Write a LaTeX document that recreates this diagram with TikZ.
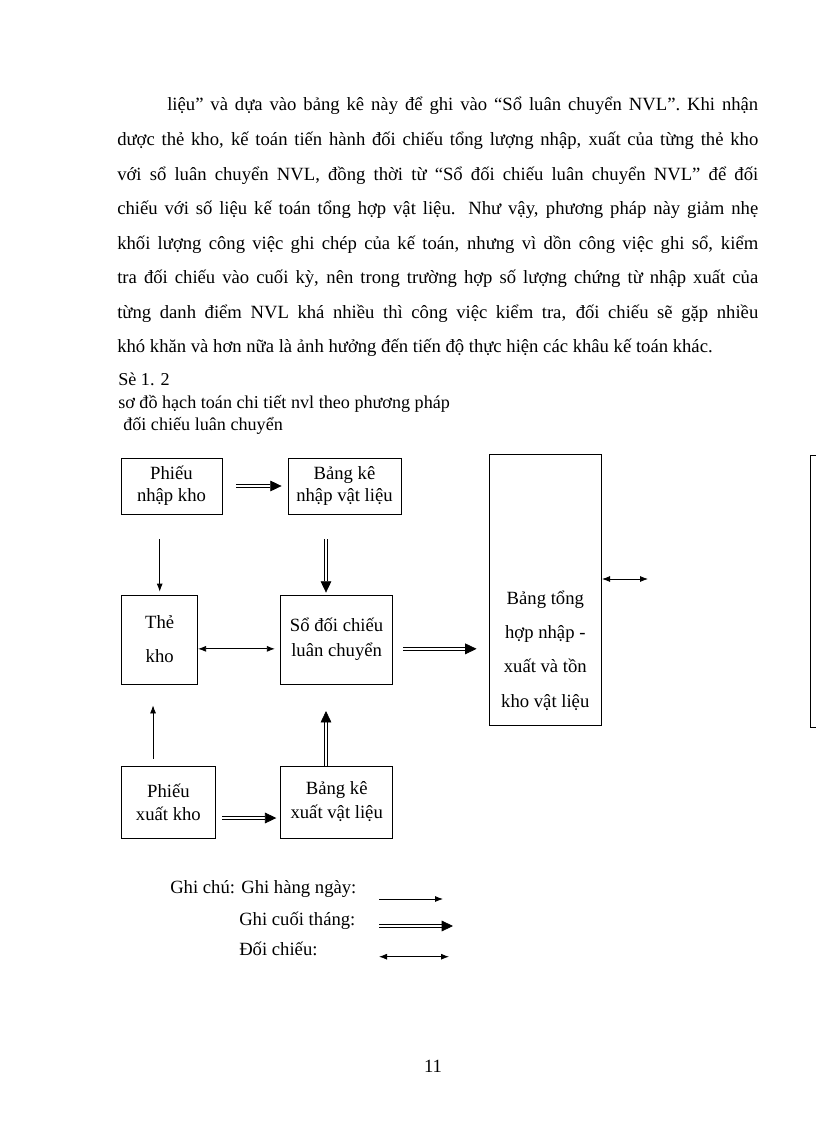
\documentclass[tikz,border=0pt]{standalone}
\usepackage{fontspec}
\setmainfont{Liberation Serif}
\usetikzlibrary{arrows.meta}
\newcommand{\cochu}[2]{\fontsize{#1}{#2}\selectfont}

\begin{document}
\begin{tikzpicture}[x=.75pt,y=-.75pt,
	hop/.style={draw,line width=.6pt,inner sep=0pt,align=center,font=\cochu{14}{16.5}},
	ngay/.style={line width=.6pt,-{Latex[length=6pt,width=4.5pt]}},
	thang/.style={double,double distance=1.6pt,line width=.55pt,-{Triangle[length=8.5pt,width=8pt]}},
	doichieu/.style={line width=.6pt,{Latex[length=6pt,width=4.5pt]}-{Latex[length=6pt,width=4.5pt]}}]
	\useasboundingbox (0,0) rectangle (816,1123);
	% doan van
	\node[anchor=base west,inner sep=0pt,text width=480.75pt,align=justify,font=\cochu{14}{25.9}] (vanban) at (117,111)
	{\hspace*{37.5pt}liệu” và dựa vào bảng kê này để ghi vào “Sổ luân chuyển NVL”. Khi nhận\linebreak
	dược thẻ kho, kế toán tiến hành đối chiếu tổng lượng nhập, xuất của từng thẻ kho\linebreak
	với sổ luân chuyển NVL, đồng thời từ “Sổ đối chiếu luân chuyển NVL” để đối\linebreak
	chiếu với số liệu kế toán tổng hợp vật liệu. Như vậy, phương pháp này giảm nhẹ\linebreak
	khối lượng công việc ghi chép của kế toán, nhưng vì dồn công việc ghi sổ, kiểm\linebreak
	tra đối chiếu vào cuối kỳ, nên trong trường hợp số lượng chứng từ nhập xuất của\linebreak
	từng danh điểm NVL khá nhiều thì công việc kiểm tra, đối chiếu sẽ gặp nhiều\linebreak
	khó khăn và hơn nữa là ảnh hưởng đến tiến độ thực hiện các khâu kế toán khác.};
	% tieu de
	\node[anchor=base west,inner sep=0pt,font=\cochu{13.6}{15}] (so) at (118,385) {Sè 1. 2};
	\node[anchor=base west,inner sep=0pt,font=\cochu{13.6}{15}] (ten1) at (118,408) {sơ đồ hạch toán chi tiết nvl theo phương pháp};
	\node[anchor=base west,inner sep=0pt,font=\cochu{13.6}{15}] (ten2) at (123,430) {đối chiếu luân chuyển};
	% cac o
	\node[hop,minimum width=75.75pt,minimum height=42pt] (pnk) at (171.5,486) {Phiếu\\nhập kho};
	\node[hop,minimum width=84.75pt,minimum height=42pt] (bkn) at (344.5,486) {Bảng kê\\nhập vật liệu};
	\node[hop,minimum width=57pt,minimum height=66.75pt,font=\cochu{14}{25.5}] (tk) at (159.7,639.5) {Thẻ\\kho};
	\node[hop,minimum width=84pt,minimum height=66.75pt,font=\cochu{14}{18.75}] (sdc) at (336.6,639.5) {Sổ đối chiếu\\luân chuyển};
	\node[hop,minimum width=70pt,minimum height=54pt,font=\cochu{14}{17.25}] (pxk) at (168.4,802) {Phiếu\\xuất kho};
	\node[hop,minimum width=84pt,minimum height=54pt,font=\cochu{14}{18}] (bkx) at (336.7,802) {Bảng kê\\xuất vật liệu};
	\node[hop,minimum width=84.5pt,minimum height=203.25pt] (bth) at (545.3,589.5) {};
	\node[align=center,font=\cochu{14}{25.7}] (bthchu) at (545.3,650.5) {Bảng tổng\\hợp nhập -\\xuất và tồn\\kho vật liệu};
	\node[draw,line width=.6pt,minimum width=30pt,minimum height=204pt,anchor=north west] (ktth) at (810.3,455) {};
	% mui ten
	\draw[thang,shorten <=10.5pt,shorten >=4.5pt] (pnk) -- (bkn);
	\draw[ngay,shorten <=18.75pt,shorten >=2.25pt] (pnk.south -| tk) -- (tk);
	\draw[thang,shorten <=18.75pt,shorten >=1.5pt] ([xshift=-7.95pt]sdc.north |- bkn.south) -- ([xshift=-7.95pt]sdc.north);
	\draw[doichieu,shorten >=4pt] ([yshift=-7pt]tk.east) -- ([yshift=-7pt]sdc.west);
	\draw[thang,shorten <=7.5pt,shorten >=9pt] ([yshift=-7pt]sdc.east) -- ([yshift=-7pt]sdc.east -| bth.west);
	\coordinate (ra) at (648,579);
	\draw[doichieu] (bth.east |- ra) -- (ra);
	\draw[ngay,shorten <=5.25pt,shorten >=15.75pt] ([xshift=-5pt]tk.south |- pxk.north) -- ([xshift=-5pt]tk.south);
	\draw[thang,shorten >=20pt] ([xshift=-7.95pt]sdc.south |- bkx.north) -- ([xshift=-7.95pt]sdc.south);
	\draw[thang,shorten <=5pt,shorten >=3pt] ([yshift=-12pt]pxk.east) -- ([yshift=-12pt]bkx.west);
	% ghi chu
	\node[anchor=base west,inner sep=0pt,font=\cochu{14}{16}] (gc1) at (170,893) {Ghi chú: Ghi hàng ngày:};
	\node[anchor=base west,inner sep=0pt,font=\cochu{14}{16}] (gc2) at (239,925) {Ghi cuối tháng:};
	\node[anchor=base west,inner sep=0pt,font=\cochu{14}{16}] (gc3) at (239,955) {Đối chiếu:};
	\coordinate (m1a) at (379,899);   \coordinate (m1b) at (443,899);
	\coordinate (m2a) at (379,926);   \coordinate (m2b) at (453,926);
	\coordinate (m3a) at (379,956.7); \coordinate (m3b) at (449,956.7);
	\draw[ngay] (m1a) -- (m1b);
	\draw[thang] (m2a) -- (m2b);
	\draw[doichieu] (m3a) -- (m3b);
	\node[font=\cochu{14}{16}] (trang) at (433,1066) {11};
\end{tikzpicture}
\end{document}
